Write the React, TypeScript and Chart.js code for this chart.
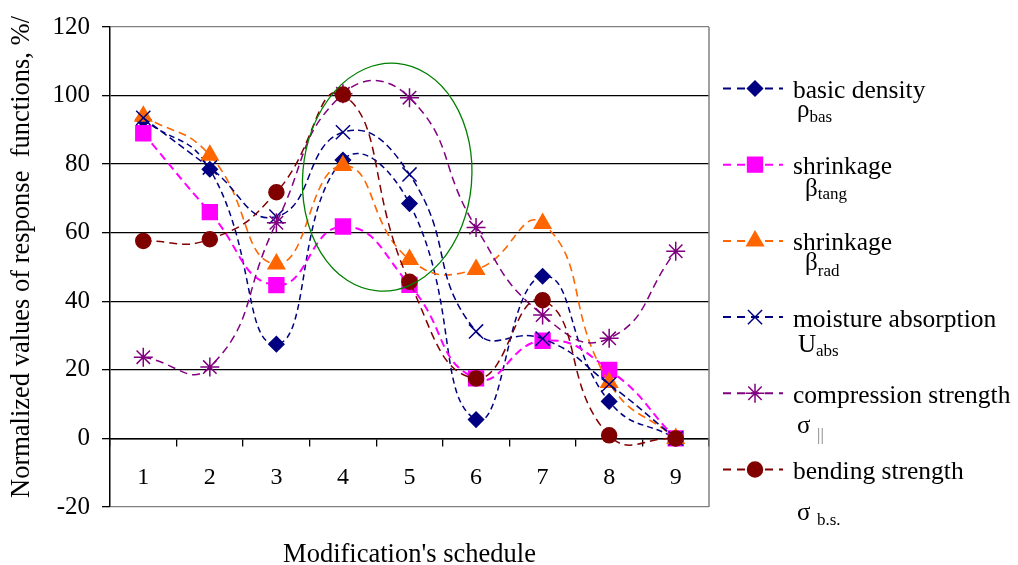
import React, { useEffect, useRef } from 'react';
import { Chart, registerables } from 'chart.js';
import { drawPoint } from 'chart.js/helpers';

Chart.register(...registerables);

// ---------- data ----------
const categories = ['1', '2', '3', '4', '5', '6', '7', '8', '9'];
const basicDensity = [93, 78.5, 27.5, 81.2, 68.5, 5.5, 47.3, 10.8, 0];
const shrinkageTang = [89, 66, 44.7, 61.8, 44.8, 17.5, 28.5, 20, 0];
const shrinkageRad = [94, 82.6, 50.9, 79.6, 52.2, 49.3, 62.7, 16.3, 0];
const moistureAbsorption = [93.5, 79, 64.7, 89.3, 77, 31.2, 29.1, 15.8, 0];
const compressionStrength = [23.7, 20.8, 62.9, 100.5, 99.4, 61.5, 36, 29.2, 54.6];
const bendingStrength = [57.6, 58.1, 71.8, 100.3, 45.7, 17.5, 40.3, 0.9, 0];

const seriesLabels = ['basic density', 'shrinkage', 'shrinkage', 'moisture absorption', 'compression strength', 'bending strength'];
const seriesSymbols = ['ρ', 'β', 'β', 'U', 'σ', 'σ'];
const seriesSubscripts = ['bas', 'tang', 'rad', 'abs', '||', 'b.s.'];

const yMin = -20;
const yMax = 120;
const yStep = 20;
const yTitle = 'Normalized values of response  functions, %/';
const xTitle = "Modification's schedule";

// highlighted region (ellipse), in data units: category index / value
const ellipseCenterIndex = 3.665;
const ellipseCenterValue = 76.2;
const ellipseRadiusIndex = 1.27;
const ellipseRadiusValue = 33.3;

const FONT = "'Liberation Serif', 'Times New Roman', serif";

const styles = [
  { color: '#000080', point: 'rectRot', radius: 7.5, width: 1.5, dash: [6, 4] },
  { color: '#FF00FF', point: 'rect', radius: 10.5, width: 2, dash: [8, 5] },
  { color: '#FF6600', point: 'triangle', radius: 9.5, width: 1.6, dash: [8, 5] },
  { color: '#000080', point: 'crossRot', radius: 10, width: 1.5, dash: [7, 4] },
  { color: '#800080', point: 'star', radius: 9.5, width: 1.5, dash: [8, 5] },
  { color: '#800000', point: 'circle', radius: 7.5, width: 1.5, dash: [8, 5] },
];

const seriesValues = [basicDensity, shrinkageTang, shrinkageRad, moistureAbsorption, compressionStrength, bendingStrength];

// legend layout (pixel offsets)
const legendLayout = [
  { symDx: 4, symDy: 19, subDx: 0, subDy: 5 },
  { symDx: 12, symDy: 22, subDx: 12, subDy: 3 },
  { symDx: 12, symDy: 20, subDx: 12, subDy: 6 },
  { symDx: 5, symDy: 25, subDx: 17, subDy: 4 },
  { symDx: 4, symDy: 30, subDx: 20, subDy: 7 },
  { symDx: 4, symDy: 41, subDx: 20, subDy: 5 },
];

const extrasPlugin = {
  id: 'extras',
  afterDatasetsDraw(chart: any) {
    const { ctx, chartArea: ca, scales } = chart;
    const xs = scales.x;
    const ys = scales.y;
    ctx.save();
    // right border of plot area
    ctx.strokeStyle = '#808080';
    ctx.lineWidth = 1.5;
    ctx.beginPath();
    ctx.moveTo(ca.right, ca.top);
    ctx.lineTo(ca.right, ca.bottom);
    ctx.stroke();
    // ellipse
    const cx = xs.getPixelForValue(ellipseCenterIndex);
    const cy = ys.getPixelForValue(ellipseCenterValue);
    const rx = xs.getPixelForValue(ellipseCenterIndex + ellipseRadiusIndex) - cx;
    const ry = cy - ys.getPixelForValue(ellipseCenterValue + ellipseRadiusValue);
    ctx.strokeStyle = '#008000';
    ctx.lineWidth = 1.3;
    ctx.beginPath();
    ctx.ellipse(cx, cy, rx, ry, 0.085, 0, Math.PI * 2);
    ctx.stroke();
    ctx.restore();
  },
  afterDraw(chart: any) {
    const { ctx, chartArea: ca } = chart;
    ctx.save();
    // axis titles
    ctx.fillStyle = '#000';
    ctx.textAlign = 'center';
    ctx.textBaseline = 'alphabetic';
    ctx.font = `26.5px ${FONT}`;
    ctx.fillText(xTitle, (ca.left + ca.right) / 2, ca.bottom + 55);
    ctx.save();
    ctx.translate(29, (ca.top + ca.bottom) / 2 - 10);
    ctx.rotate(-Math.PI / 2);
    ctx.font = `26.5px ${FONT}`;
    ctx.fillText(yTitle, 0, 0);
    ctx.restore();

    // legend
    const lineX0 = ca.right + 14;
    const lineX1 = ca.right + 74;
    const markX = ca.right + 46;
    const textX = ca.right + 84;
    const firstBase = 98;
    const step = 76.2;
    for (let i = 0; i < seriesLabels.length; i++) {
      const st = styles[i];
      const lay = legendLayout[i];
      const base = firstBase + step * i;
      const ly = base - 9.5;
      ctx.strokeStyle = st.color;
      ctx.lineWidth = 2;
      ctx.setLineDash([8, 6]);
      ctx.beginPath();
      ctx.moveTo(lineX0, ly);
      ctx.lineTo(lineX1, ly);
      ctx.stroke();
      ctx.setLineDash([]);
      ctx.fillStyle = st.color;
      ctx.strokeStyle = st.color;
      ctx.lineWidth = 1.5;
      drawPoint(ctx, { pointStyle: st.point, radius: st.radius, rotation: 0, borderWidth: 1.5 } as any, markX, ly);
      // text
      ctx.fillStyle = '#000';
      ctx.textAlign = 'left';
      ctx.textBaseline = 'alphabetic';
      ctx.font = `25.5px ${FONT}`;
      ctx.fillText(seriesLabels[i], textX, base);
      const sx = textX + lay.symDx;
      const sy = base + lay.symDy;
      ctx.font = `25px ${FONT}`;
      ctx.fillText(seriesSymbols[i], sx, sy);
      const sw = ctx.measureText(seriesSymbols[i]).width;
      ctx.font = `17px ${FONT}`;
      ctx.fillStyle = i === 4 ? '#808080' : '#000';
      ctx.fillText(seriesSubscripts[i], sx + Math.max(sw, lay.subDx), sy + lay.subDy);
    }
    ctx.restore();
  },
};

export default function App() {
  const ref = useRef<HTMLCanvasElement | null>(null);
  useEffect(() => {
    if (!ref.current) return;
    const order = [6, 5, 4, 3, 2, 1];
    const chart = new Chart(ref.current, {
      type: 'line',
      data: {
        labels: categories,
        datasets: seriesValues.map((vals, i) => ({
          label: seriesLabels[i] + ' ' + seriesSymbols[i] + seriesSubscripts[i],
          data: vals,
          borderColor: styles[i].color,
          backgroundColor: styles[i].color,
          borderWidth: styles[i].width,
          borderDash: styles[i].dash,
          pointStyle: styles[i].point as any,
          pointRadius: styles[i].radius,
          pointHoverRadius: styles[i].radius,
          pointBorderWidth: 1.5,
          pointBorderColor: styles[i].color,
          pointBackgroundColor: styles[i].color,
          tension: 0.5,
          fill: false,
          order: order[i],
        })),
      },
      options: {
        animation: false,
        responsive: true,
        maintainAspectRatio: false,
        layout: { padding: { top: 22, right: 309, bottom: 58, left: 0 } },
        plugins: {
          legend: { display: false },
          tooltip: { enabled: false },
          title: { display: false },
        },
        scales: {
          x: {
            type: 'category',
            position: { y: 0 } as any,
            offset: true,
            grid: {
              display: true,
              offset: true,
              drawOnChartArea: false,
              drawTicks: true,
              tickLength: 7,
              color: '#000',
              tickColor: '#000',
              lineWidth: 1.3,
            },
            border: { display: true, color: '#000', width: 1.5 },
            ticks: {
              color: '#000',
              font: { family: FONT, size: 24 },
              padding: 18,
              maxRotation: 0,
            },
          },
          y: {
            type: 'linear',
            min: yMin,
            max: yMax,
            afterFit: (scale: any) => { scale.width = 110; },
            ticks: {
              stepSize: yStep,
              color: '#000',
              font: { family: FONT, size: 25 },
              padding: 12,
            },
            grid: {
              display: true,
              drawTicks: true,
              tickLength: 8,
              tickColor: '#000',
              color: (c: any) => (c.tick && (c.tick.value === yMax || c.tick.value === yMin) ? '#808080' : '#000'),
              lineWidth: 1.3,
            },
            border: { display: true, color: '#000', width: 1.5 },
            title: { display: false },
          },
        },
      },
      plugins: [extrasPlugin],
    });
    return () => chart.destroy();
  }, []);
  return (
    <div style={{ position: 'fixed', left: 0, top: 0, width: 1018, height: 565, background: '#fff' }}>
      <canvas ref={ref} />
    </div>
  );
}
